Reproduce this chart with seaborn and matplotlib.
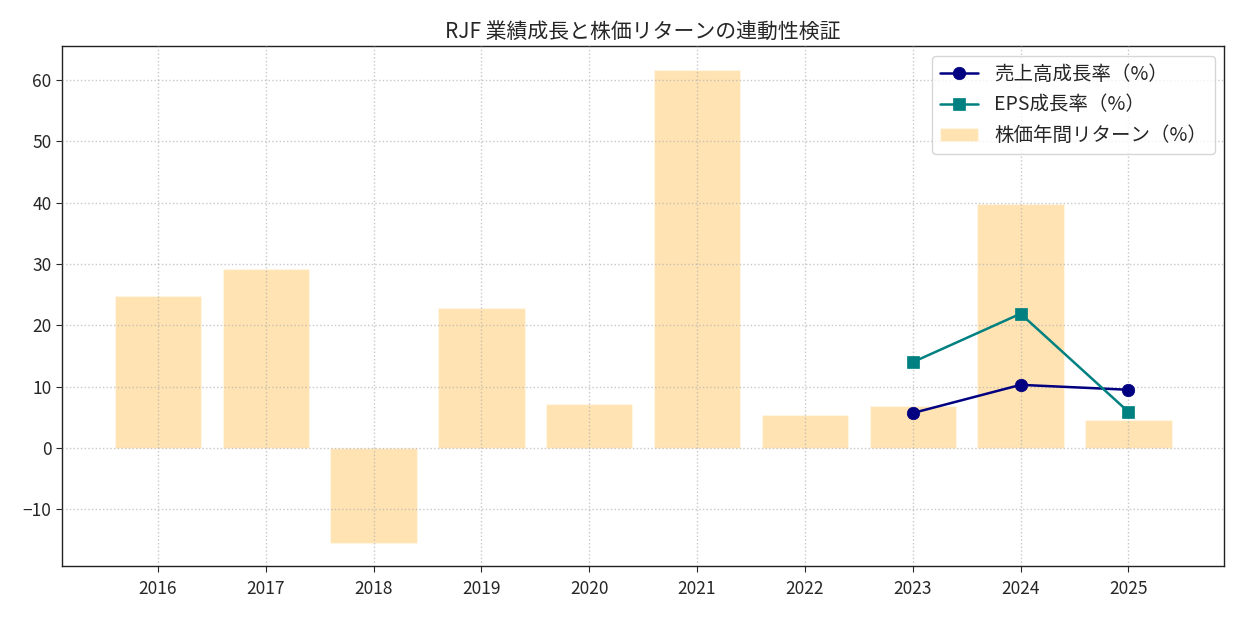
import matplotlib
matplotlib.use("Agg")
import matplotlib.pyplot as plt
import seaborn as sns
import pandas as pd

years = [2016, 2017, 2018, 2019, 2020, 2021, 2022, 2023, 2024, 2025]
stock_return = [24.8, 29.2, -15.5, 22.8, 7.2, 61.7, 5.4, 6.85, 39.8, 4.6]
growth_years = [2023, 2024, 2025]
revenue_growth = [5.7, 10.3, 9.5]
eps_growth = [14.0, 21.9, 5.9]

sns.set_style("white")
plt.rcParams['font.family'] = ['Noto Sans CJK JP', 'DejaVu Sans']

fig, ax = plt.subplots(figsize=(12.38, 6.17), dpi=100)
fig.subplots_adjust(left=0.05, right=0.989, top=0.925, bottom=0.082)

df_bar = pd.DataFrame({"year": years, "ret": stock_return})
sns.barplot(data=df_bar, x="year", y="ret", native_scale=True, color="orange",
            alpha=0.3, width=0.8, saturation=1, ax=ax, label="株価年間リターン（%）")
df_l = pd.DataFrame({"year": growth_years, "rev": revenue_growth, "eps": eps_growth})
sns.lineplot(data=df_l, x="year", y="rev", marker="o", color="navy", markersize=9,
             markeredgecolor="navy", markeredgewidth=0.5, linewidth=1.8, ax=ax,
             label="売上高成長率（%）", zorder=4)
sns.lineplot(data=df_l, x="year", y="eps", marker="s", color="teal", markersize=9,
             markeredgecolor="teal", markeredgewidth=0.5, linewidth=1.8, ax=ax,
             label="EPS成長率（%）", zorder=4)

ax.set_xticks(years)
ax.set_xticklabels([str(y) for y in years])
ax.set_xlim(2015.11, 2025.89)
ax.set_ylim(-19.3, 65.5)
ax.set_xlabel("")
ax.set_ylabel("")
ax.grid(True, linestyle=":", color="#b0b0b0", alpha=0.7, linewidth=1)
ax.set_axisbelow(False)
for s in ax.spines.values():
    s.set_color("#222222")
    s.set_linewidth(1.0)
ax.tick_params(axis="both", labelsize=12.5, length=4, direction="out", bottom=True, left=True)
ax.tick_params(axis="x", pad=6)
ax.set_title("RJF 業績成長と株価リターンの連動性検証", fontsize=15)

h, l = ax.get_legend_handles_labels()
order = [l.index("売上高成長率（%）"), l.index("EPS成長率（%）"), l.index("株価年間リターン（%）")]
ax.legend([h[i] for i in order], [l[i] for i in order], loc="upper right", fontsize=14)

fig.savefig("out.png", dpi=100)
